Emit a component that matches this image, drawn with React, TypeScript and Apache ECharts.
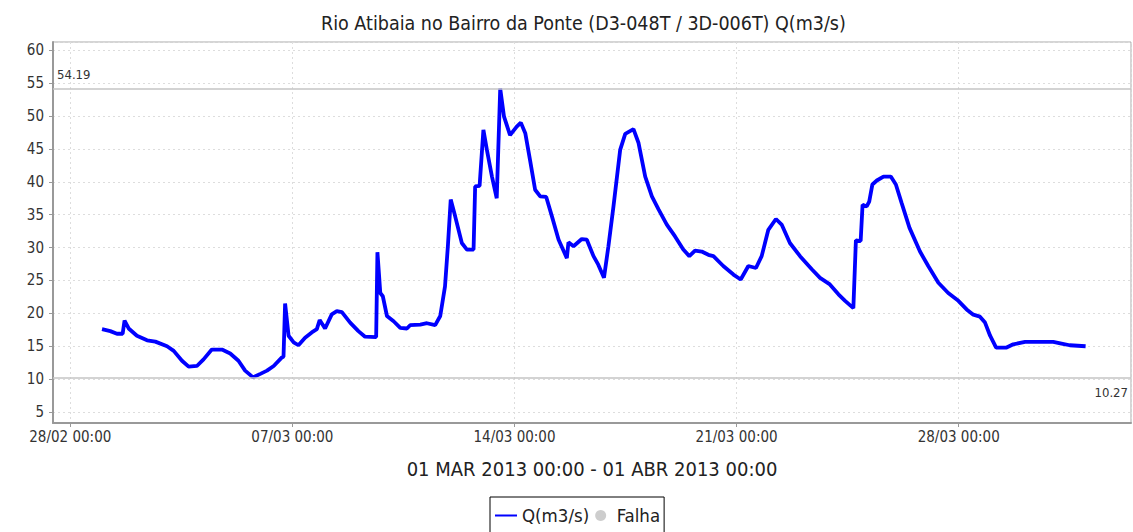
import React, { useEffect, useRef } from "react";
import * as echarts from "echarts";

const DAY_MS = 86400000;
const SERIES_START = Date.UTC(2013, 2, 1, 0, 0); // 01 MAR 2013 00:00

const chartTitle = "Rio Atibaia no Bairro da Ponte (D3-048T / 3D-006T) Q(m3/s)";
const periodLabel = "01 MAR 2013 00:00 - 01 ABR 2013 00:00";
const flowName = "Q(m3/s)";
const failName = "Falha";

// days elapsed since 01 MAR 2013 00:00
const dayOffset = [
  0.0, 0.26, 0.47, 0.65, 0.71, 0.84, 1.1, 1.42, 1.68, 2.05, 2.26, 2.52, 2.73, 2.99,
  3.2, 3.46, 3.78, 4.04, 4.3, 4.51, 4.76, 4.99, 5.2, 5.41, 5.67, 5.72, 5.77, 5.88,
  6.04, 6.19, 6.4, 6.61, 6.77, 6.86, 7.03, 7.24, 7.4, 7.56, 7.82, 8.08, 8.29, 8.64,
  8.68, 8.77, 8.85, 8.98, 9.19, 9.4, 9.61, 9.71, 10.03, 10.24, 10.5, 10.66, 10.81,
  10.9, 10.99, 11.13, 11.34, 11.5, 11.71, 11.76, 11.9, 12.02, 12.13, 12.29, 12.44,
  12.55, 12.67, 12.86, 13.07, 13.2, 13.34, 13.49, 13.65, 13.81, 14.0, 14.18, 14.39,
  14.65, 14.7, 14.86, 15.12, 15.28, 15.49, 15.64, 15.82, 15.96, 16.12, 16.33, 16.49,
  16.75, 16.91, 17.12, 17.33, 17.54, 17.8, 18.06, 18.32, 18.51, 18.69, 18.9, 19.11,
  19.27, 19.58, 19.9, 20.13, 20.37, 20.61, 20.79, 21.0, 21.24, 21.42, 21.68, 22.0,
  22.37, 22.63, 22.94, 23.21, 23.42, 23.68, 23.76, 23.91, 23.97, 24.1, 24.18, 24.28,
  24.42, 24.63, 24.86, 25.02, 25.2, 25.45, 25.78, 26.04, 26.36, 26.67, 26.99, 27.25,
  27.46, 27.67, 27.83, 27.99, 28.18, 28.51, 28.72, 29.09, 29.56, 29.98, 30.24, 30.5,
  31.0,
];

// Q (m3/s)
const flow = [
  17.6, 17.3, 16.9, 16.9, 18.9, 17.7, 16.6, 15.9, 15.7, 15.0, 14.3, 12.8, 11.9, 12.0,
  13.0, 14.5, 14.5, 13.9, 12.8, 11.3, 10.27, 10.8, 11.3, 12.0, 13.3, 13.4, 21.5, 16.6,
  15.6, 15.15, 16.3, 17.1, 17.6, 19.0, 17.7, 19.85, 20.35, 20.2, 18.6, 17.3, 16.45, 16.4,
  29.3, 23.1, 22.6, 19.6, 18.8, 17.8, 17.7, 18.2, 18.3, 18.5, 18.2, 19.6, 24.1,
  30.2, 37.3, 34.75, 30.7, 29.7, 29.7, 39.3, 39.4, 47.9, 44.85, 40.8, 37.5,
  54.19, 49.9, 47.1, 48.4, 49.0, 47.4, 43.3, 38.8, 37.8, 37.7, 34.75, 31.2,
  28.4, 30.8, 30.2, 31.3, 31.2, 28.7, 27.4, 25.4, 30.2, 36.3, 44.85, 47.3,
  48.0, 45.9, 40.8, 37.8, 35.8, 33.5, 31.7, 29.7, 28.7, 29.55, 29.4, 28.9,
  28.7, 27.2, 25.9, 25.15, 27.2, 26.9, 28.7, 32.7, 34.35, 33.5, 30.7, 28.7,
  26.7, 25.4, 24.4, 22.9, 21.9, 20.8, 31.1, 31.0, 36.5, 36.25, 37.0, 39.6,
  40.2, 40.8, 40.8, 39.6, 36.8, 33.0, 29.4, 27.2, 24.65, 23.1, 21.9, 20.6,
  19.8, 19.5, 18.6, 16.6, 14.8, 14.8, 15.3, 15.65, 15.65, 15.65, 15.4, 15.15,
  15.0,
];

const FONT = "'DejaVu Sans Condensed', 'DejaVu Sans', sans-serif";

function pad2(n: number) {
  return String(n).padStart(2, "0");
}
function fmtTick(v: number) {
  const d = new Date(v);
  return `${pad2(d.getUTCDate())}/${pad2(d.getUTCMonth() + 1)} ${pad2(d.getUTCHours())}:${pad2(
    d.getUTCMinutes()
  )}`;
}

export default function App() {
  const ref = useRef<HTMLDivElement>(null);

  useEffect(() => {
    document.body.style.margin = "0";
    if (!ref.current) return;
    const chart = echarts.init(ref.current, undefined, { renderer: "svg" });

    const points = dayOffset.map((d, i) => [SERIES_START + d * DAY_MS, flow[i]]);

    chart.setOption({
      animation: false,
      backgroundColor: "#ffffff",
      textStyle: { fontFamily: FONT },
      title: {
        text: chartTitle,
        left: 316,
        top: 8,
        textStyle: { fontFamily: FONT, fontSize: 19.5, fontWeight: "normal", color: "#222" },
      },
      legend: {
        left: 490,
        top: 497,
        orient: "horizontal",
        itemWidth: 22,
        itemHeight: 11,
        itemGap: 6,
        padding: [9, 4, 10, 5],
        borderColor: "#000",
        borderWidth: 1,
        textStyle: { fontFamily: FONT, fontSize: 18.5, color: "#222" },
        data: [
          { name: flowName, icon: "path://M0,0 L22,0 L22,2 L0,2 Z" },
          { name: failName, icon: "circle" },
        ],
      },
      grid: {
        left: 53,
        right: 2,
        top: 42,
        bottom: 109,
        show: true,
        borderColor: "#aaaaaa",
        borderWidth: 1,
        backgroundColor: "#ffffff",
      },
      xAxis: {
        type: "value",
        min: Date.UTC(2013, 1, 27, 10, 55),
        max: Date.UTC(2013, 3, 2, 10, 20),
        minInterval: 7 * DAY_MS,
        maxInterval: 7 * DAY_MS,
        name: periodLabel,
        nameLocation: "middle",
        nameGap: 36,
        nameTextStyle: { fontFamily: FONT, fontSize: 20, color: "#222" },
        axisLine: { show: true, lineStyle: { color: "#999999", width: 2 } },
        axisTick: { show: true, length: 4, lineStyle: { color: "#999999" } },
        axisLabel: {
          showMinLabel: false,
          showMaxLabel: false,
          fontFamily: FONT,
          fontSize: 15,
          color: "#333",
          margin: 6,
          formatter: (v: number) => fmtTick(v),
        },
        splitLine: { show: true, lineStyle: { color: "#dddddd", type: [2, 3], width: 1 } },
      },
      yAxis: {
        type: "value",
        min: 3.33,
        max: 61.26,
        minInterval: 5,
        maxInterval: 5,
        axisLine: { show: true, lineStyle: { color: "#999999", width: 2 } },
        axisTick: { show: true, length: 4, lineStyle: { color: "#999999" } },
        axisLabel: {
          showMinLabel: false,
          showMaxLabel: false,
          fontFamily: FONT,
          fontSize: 15,
          color: "#333",
          margin: 9,
        },
        splitLine: { show: true, lineStyle: { color: "#dddddd", type: [2, 3], width: 1 } },
      },
      series: [
        {
          name: flowName,
          type: "line",
          data: points,
          showSymbol: false,
          symbol: "none",
          color: "#0000ff",
          lineStyle: { color: "#0000ff", width: 3.8 },
          z: 3,
          markLine: {
            silent: true,
            symbol: "none",
            lineStyle: { color: "#c4c4c4", type: "solid", width: 1.5 },
            label: {
              fontFamily: FONT,
              fontSize: 13,
              color: "#333",
              formatter: (p: any) => Number(p.value).toFixed(2),
            },
            data: [
              { type: "max", valueDim: "y", label: { position: "insideStartTop", distance: [4, 7] } },
              { type: "min", valueDim: "y", label: { position: "insideEndBottom", distance: [3, 9] } },
            ],
          },
        },
        {
          name: failName,
          type: "scatter",
          data: [],
          color: "#c0c0c0",
          itemStyle: { color: "#c0c0c0" },
        },
      ],
    });

    return () => chart.dispose();
  }, []);

  return <div ref={ref} style={{ width: 1133, height: 532 }} />;
}
